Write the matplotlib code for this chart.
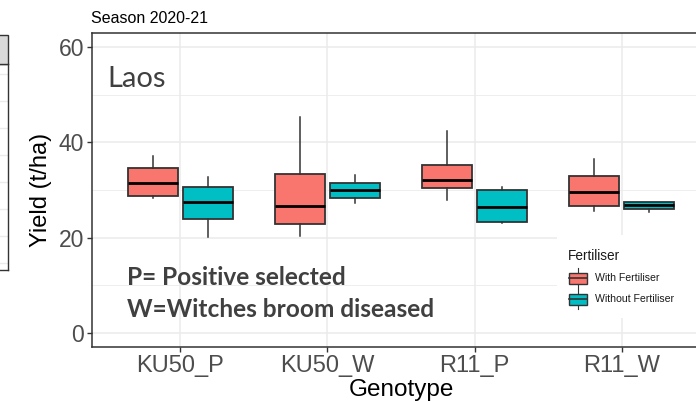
import matplotlib
matplotlib.use("Agg")
import matplotlib.pyplot as plt
from matplotlib.patches import Rectangle
from matplotlib.lines import Line2D

# ---------------- data ----------------
genotypes = ['KU50_P', 'KU50_W', 'R11_P', 'R11_W']
series_names = ['With Fertiliser', 'Without Fertiliser']
series_colors = ['#F8766D', '#00BFC4']

with_lo = [28.4, 20.3, 27.9, 25.6]
with_q1 = [28.7, 22.9, 30.4, 26.6]
with_med = [31.4, 26.6, 32.2, 29.5]
with_q3 = [34.7, 33.4, 35.3, 33.0]
with_hi = [37.1, 45.3, 42.3, 36.6]

wo_lo = [20.1, 27.3, 23.1, 25.3]
wo_q1 = [23.9, 28.4, 23.3, 26.1]
wo_med = [27.4, 30.0, 26.5, 26.8]
wo_q3 = [30.6, 31.5, 29.9, 27.4]
wo_hi = [32.8, 33.2, 30.6, 27.4]

y_ticks = [0, 20, 40, 60]
y_minor = [10, 30, 50]

# ---------------- figure ----------------
W, H = 696, 401
DPI = 100
fig = plt.figure(figsize=(W / DPI, H / DPI), dpi=DPI)
fig.patch.set_facecolor('white')

def fx(px):
    return px / W

def fy(py):
    return 1 - py / H

GG = 'Liberation Sans'
CAL = 'Lato'
BORDER = '#333333'
GRID = '#EBEBEB'

# partial neighbouring panel on the far left
axl = fig.add_axes([fx(-120), fy(270), fx(128), fy(64) - fy(270)])
axl.set_xlim(0, 1)
axl.set_ylim(0, 1)
for yy in [74, 101, 128, 155, 182, 209, 236, 263]:
    axl.axhline((270 - yy) / (270 - 64), color=GRID, lw=1, zorder=0)
axl.set_xticks([])
axl.set_yticks([])
for s in axl.spines.values():
    s.set_color(BORDER)
    s.set_linewidth(1.0)
strip = Rectangle((fx(-120), fy(64)), fx(128), fy(35) - fy(64),
                  transform=fig.transFigure, facecolor='#D9D9D9',
                  edgecolor=BORDER, lw=1.0)
fig.patches.append(strip)

# main panel
L, R, T, B = 92, 710, 33, 347
ax = fig.add_axes([fx(L), fy(B), fx(R) - fx(L), fy(T) - fy(B)])
ax.set_xlim(-0.6, len(genotypes) - 0.4)
ax.set_ylim(-3, 63)

for v in y_ticks:
    ax.axhline(v, color=GRID, lw=1.1, zorder=0)
for v in y_minor:
    ax.axhline(v, color=GRID, lw=0.6, zorder=0)
for i in range(len(genotypes)):
    ax.axvline(i, color=GRID, lw=1.1, zorder=0)

offset = 0.1875
width = 0.34
sets = [
    (with_lo, with_q1, with_med, with_q3, with_hi),
    (wo_lo, wo_q1, wo_med, wo_q3, wo_hi),
]
for si, (lo, q1, med, q3, hi) in enumerate(sets):
    stats = []
    for i in range(len(genotypes)):
        stats.append(dict(whislo=lo[i], q1=q1[i], med=med[i], q3=q3[i],
                          whishi=hi[i], fliers=[]))
    pos = [i + (offset if si else -offset) for i in range(len(genotypes))]
    ax.bxp(stats, positions=pos, widths=width, patch_artist=True,
           showcaps=False, showfliers=False, manage_ticks=False,
           boxprops=dict(facecolor=series_colors[si], edgecolor=BORDER, lw=1.3),
           medianprops=dict(color='black', lw=2.0),
           whiskerprops=dict(color=BORDER, lw=1.1),
           zorder=3)

ax.set_xticks(range(len(genotypes)))
ax.set_xticklabels(genotypes, fontfamily=GG, fontsize=17, color='#4D4D4D')
ax.set_yticks(y_ticks)
ax.set_yticklabels([str(v) for v in y_ticks], fontfamily=GG, fontsize=16.5,
                   color='#4D4D4D')
ax.tick_params(axis='both', length=3.5, width=1.0, color=BORDER, pad=2)
for s in ax.spines.values():
    s.set_color(BORDER)
    s.set_linewidth(1.1)

# axis titles
fig.text(fx(41), fy(190), 'Yield (t/ha)', rotation=90, ha='center', va='center',
         fontfamily=GG, fontsize=17, color='black')
fig.text(fx(401), fy(396), 'Genotype', ha='center', va='baseline',
         fontfamily=GG, fontsize=17.5, color='black')
fig.text(fx(91), fy(23), 'Season 2020-21', ha='left', va='baseline',
         fontfamily=GG, fontsize=11.5, color='black')

# annotations
fig.text(fx(107), fy(87), 'Laos', ha='left', va='baseline',
         fontfamily=CAL, fontsize=21, color='#404040')
fig.text(fx(127), fy(285), 'P= Positive selected', ha='left', va='baseline',
         fontfamily=CAL, fontsize=17.6, fontweight='bold', color='#404040')
fig.text(fx(127), fy(317), 'W=Witches broom diseased', ha='left', va='baseline',
         fontfamily=CAL, fontsize=17.6, fontweight='bold', color='#404040')

# legend
lg = Rectangle((fx(557), fy(318)), fx(710) - fx(557), fy(235) - fy(318),
               transform=fig.transFigure, facecolor='white', edgecolor='none',
               zorder=5)
fig.patches.append(lg)
fig.text(fx(568), fy(260), 'Fertiliser', ha='left', va='baseline',
         fontfamily=GG, fontsize=9.8, color='#1A1A1A', zorder=6)
rows = [278, 299]
for name, col, cy in zip(series_names, series_colors, rows):
    x0, x1 = 569, 587
    fig.lines.append(Line2D([fx(578), fx(578)], [fy(cy - 10), fy(cy + 10)],
                            transform=fig.transFigure, color=BORDER, lw=0.8,
                            zorder=6))
    fig.patches.append(Rectangle((fx(x0), fy(cy + 5.5)), fx(x1) - fx(x0),
                                 fy(cy - 5.5) - fy(cy + 5.5),
                                 transform=fig.transFigure, facecolor=col,
                                 edgecolor=BORDER, lw=1.0, zorder=7))
    fig.lines.append(Line2D([fx(x0), fx(x1)], [fy(cy), fy(cy)],
                            transform=fig.transFigure, color=BORDER, lw=1.2,
                            zorder=8))
    fig.text(fx(595), fy(cy), name, ha='left', va='center',
             fontfamily=GG, fontsize=7.6, color='#1A1A1A', zorder=8)

fig.savefig('out.png', dpi=DPI, facecolor='white')
